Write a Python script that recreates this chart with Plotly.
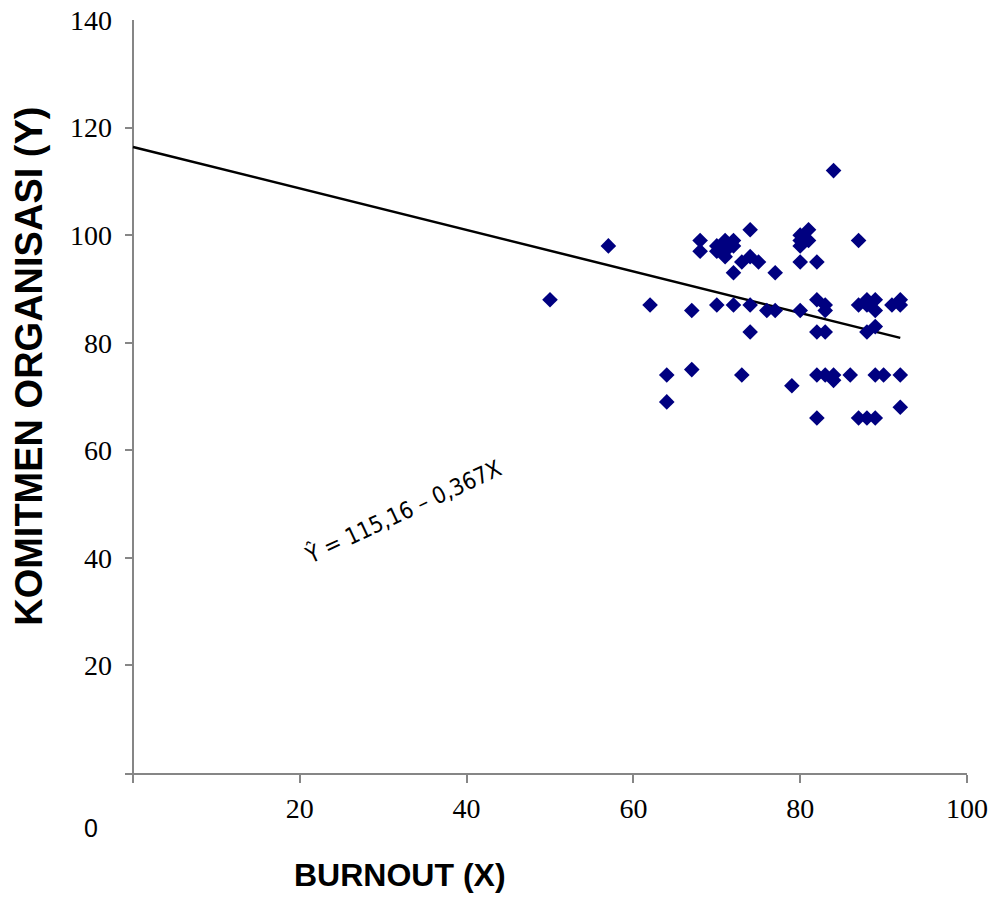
import plotly.graph_objects as go

# Scatter data: BURNOUT (X) vs KOMITMEN ORGANISASI (Y)
burnout = [50, 57, 62, 64, 64, 67, 67, 68, 68,
           70, 70, 71, 71, 71, 71, 72, 72,
           72, 72, 70, 73, 73, 74, 74, 74, 74, 75, 76, 77, 77, 79,
           80, 80, 80, 81, 81, 80, 80,
           82, 82, 82, 82, 82, 83, 83, 83, 83,
           84, 84, 84, 86,
           87, 87, 87, 88, 88, 88, 88,
           89, 89, 89, 89, 89, 90, 91, 92, 92, 92, 92]
komitmen = [88, 98, 87, 74, 69, 86, 75, 99, 97,
            98, 97, 99, 98, 97, 96, 99, 98,
            93, 87, 87, 95, 74, 101, 96, 87, 82, 95, 86, 93, 86, 72,
            100, 99, 98, 101, 99, 95, 86,
            95, 88, 82, 74, 66, 87, 86, 82, 74,
            112, 74, 73, 74,
            99, 87, 66, 88, 87, 82, 66,
            88, 86, 83, 74, 66, 74, 87, 88, 87, 74, 68]

# Regression line as drawn
line_x = [0, 92]
line_y = [116.4, 80.9]

x_ticks = [0, 20, 40, 60, 80, 100]
x_tick_labels = ["", "20", "40", "60", "80", "100"]
y_ticks = [20, 40, 60, 80, 100, 120, 140]

equation = "Ŷ = 115,16 – 0,367X"

fig = go.Figure()
fig.add_trace(go.Scatter(
    x=line_x, y=line_y, mode="lines",
    line=dict(color="black", width=2.5), showlegend=False, hoverinfo="skip"))
fig.add_trace(go.Scatter(
    x=burnout, y=komitmen, mode="markers",
    marker=dict(symbol="diamond", size=12, color="#000080",
                line=dict(width=0)),
    showlegend=False))

axis_col = "#868686"
serif = "Liberation Serif, Times New Roman, serif"

fig.update_xaxes(
    range=[-0.96, 100], showgrid=False, automargin=False,
    zeroline=True, zerolinecolor=axis_col, zerolinewidth=1.5,
    showline=True, linecolor=axis_col, linewidth=1.5,
    ticks="outside", ticklen=8, tickcolor=axis_col, tickwidth=1.5,
    tickvals=x_ticks, ticktext=x_tick_labels,
    tickfont=dict(family=serif, size=28, color="black"),
    ticklabelstandoff=2, ticklabeloverflow="allow")
fig.update_yaxes(
    range=[0, 140], showgrid=False, zeroline=False, automargin=False,
    showline=False,
    ticks="inside", ticklen=8, tickcolor=axis_col, tickwidth=1.5,
    tickvals=y_ticks,
    tickfont=dict(family=serif, size=28, color="black"),
    ticklabelstandoff=12, ticklabeloverflow="allow")

fig.add_annotation(
    text="KOMITMEN ORGANISASI (Y)", xref="paper", yref="paper",
    x=-0.1135, y=0.54, textangle=-90, showarrow=False,
    xanchor="center", yanchor="middle",
    font=dict(family="Liberation Sans, Arial, sans-serif", size=38,
              color="black", weight="bold"))
fig.add_annotation(
    text="BURNOUT (X)", xref="paper", yref="paper",
    x=0.327, y=-0.135, showarrow=False,
    xanchor="center", yanchor="middle",
    font=dict(family="Liberation Sans, Arial, sans-serif", size=32,
              color="black", weight="bold"))
fig.add_annotation(
    text="0", xref="paper", yref="paper",
    x=-0.04, y=-0.073, showarrow=False,
    xanchor="center", yanchor="middle",
    font=dict(family="Liberation Sans, Arial, sans-serif", size=25,
              color="black"))
fig.add_annotation(
    text=equation, x=32.3, y=48.7, xref="x", yref="y",
    textangle=-25, showarrow=False,
    font=dict(family="Liberation Sans Narrow, DejaVu Sans Condensed, Arial Narrow, sans-serif",
              size=23, color="black"))

fig.update_layout(
    width=1005, height=901,
    margin=dict(l=125, r=38, t=20, b=128),
    plot_bgcolor="white", paper_bgcolor="white")

# Remove the default page body margin so the figure fills the window exactly.
fig.write_html("out.html", config={"displayModeBar": False},
               post_script="document.body.style.margin='0';")
